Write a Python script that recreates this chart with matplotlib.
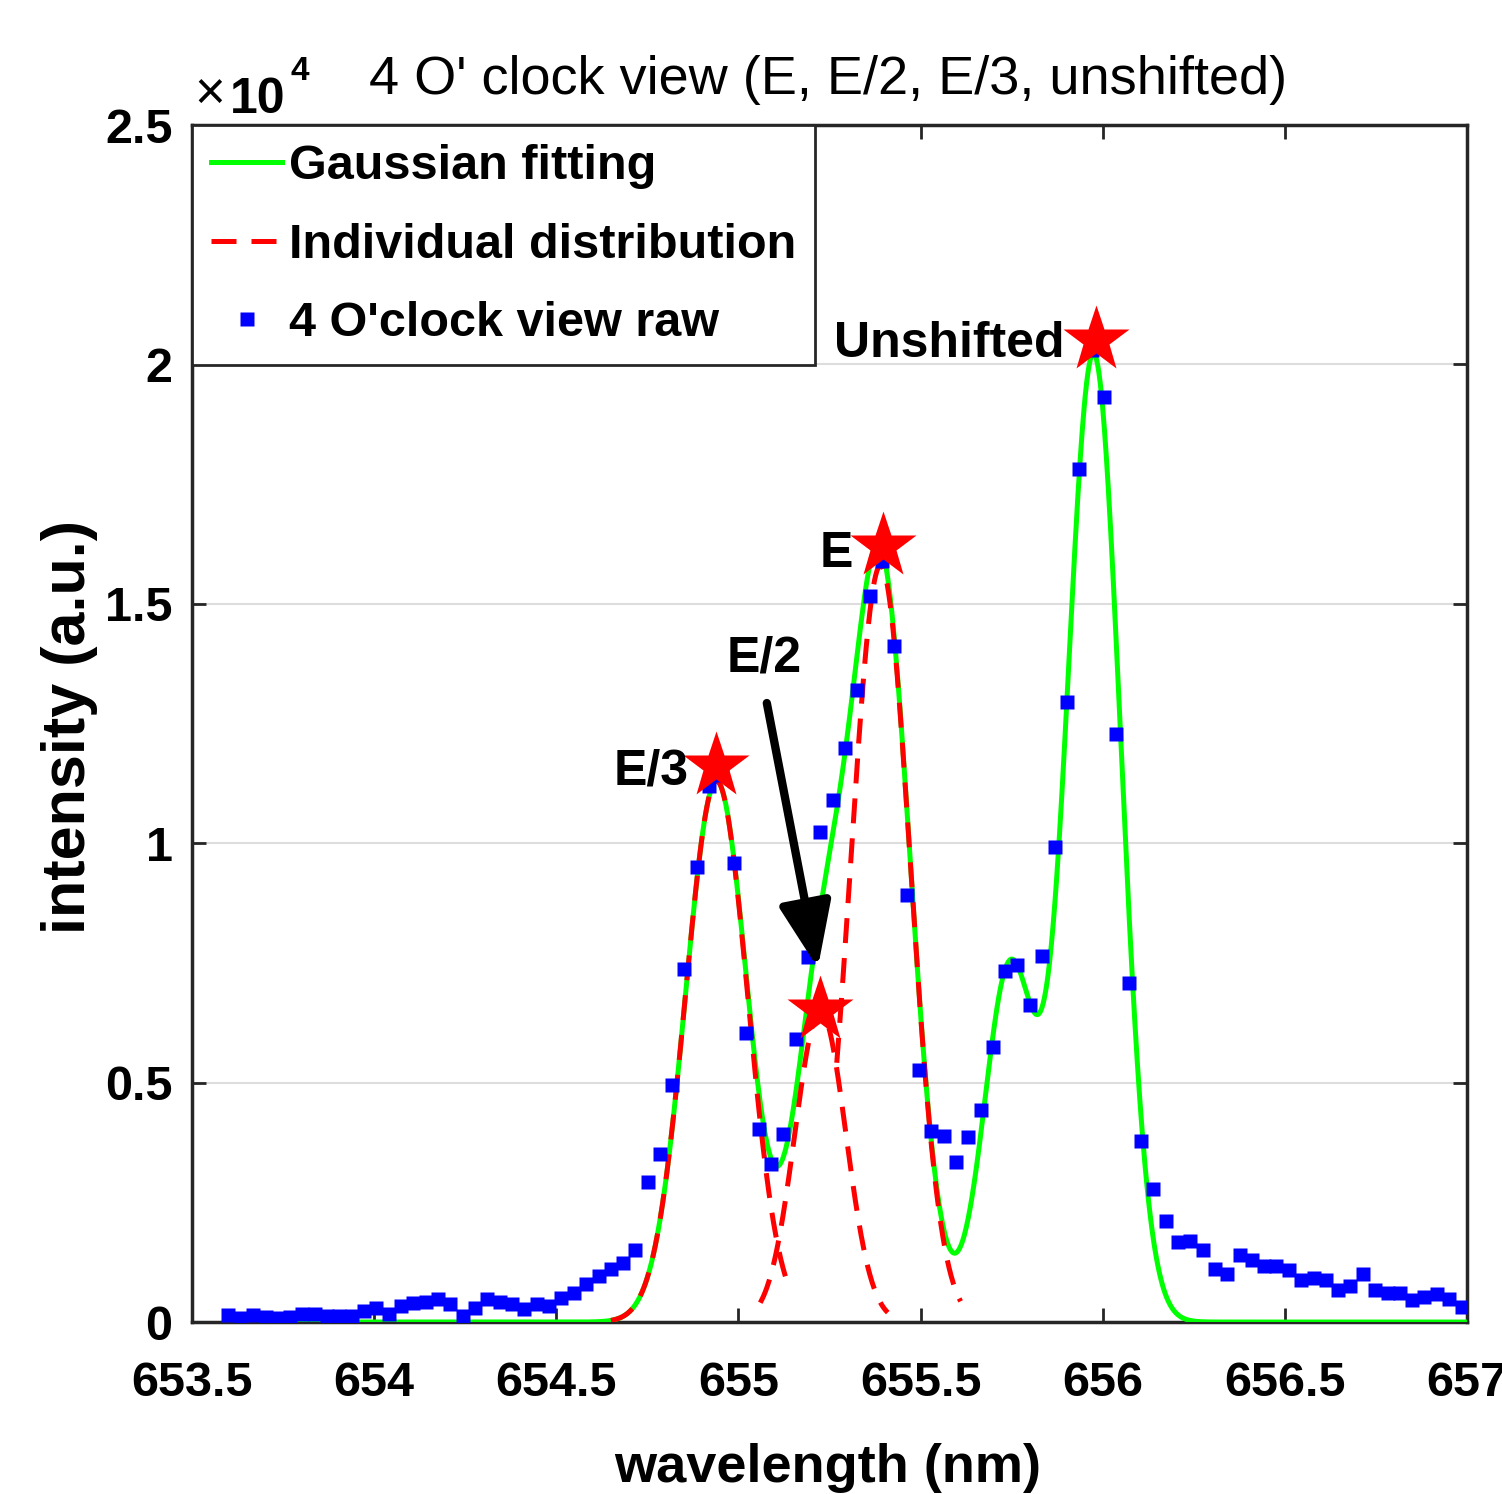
import numpy as np
import matplotlib
matplotlib.use("Agg")
import matplotlib.pyplot as plt
from matplotlib.lines import Line2D

plt.rcParams['font.family'] = ['Liberation Sans Narrow', 'Liberation Sans', 'DejaVu Sans']

# raw spectrum, 4 O'clock view
wavelength = [
    653.600, 653.634, 653.668, 653.702, 653.735, 653.769, 653.803, 653.837, 653.871, 653.905,
    653.939, 653.972, 654.006, 654.040, 654.074, 654.108, 654.142, 654.175, 654.209, 654.243,
    654.277, 654.311, 654.345, 654.379, 654.412, 654.446, 654.480, 654.514, 654.548, 654.582,
    654.616, 654.649, 654.683, 654.717, 654.751, 654.785, 654.819, 654.852, 654.886, 654.920,
    654.954, 654.988, 655.022, 655.056, 655.089, 655.123, 655.157, 655.191, 655.225, 655.259,
    655.293, 655.326, 655.360, 655.394, 655.428, 655.462, 655.496, 655.529, 655.563, 655.597,
    655.631, 655.665, 655.699, 655.733, 655.766, 655.800, 655.834, 655.868, 655.902, 655.936,
    655.970, 656.003, 656.037, 656.071, 656.105, 656.139, 656.173, 656.206, 656.240, 656.274,
    656.308, 656.342, 656.376, 656.410, 656.443, 656.477, 656.511, 656.545, 656.579, 656.613,
    656.646, 656.680, 656.714, 656.748, 656.782, 656.816, 656.850, 656.883, 656.917, 656.951,
    656.985]
intensity = [
    140, 80, 150, 100, 77, 104, 170, 160, 125, 125,
    125, 230, 286, 160, 334, 404, 425, 474, 370, 125,
    300, 474, 425, 384, 265, 370, 334, 508, 613, 787,
    961, 1100, 1239, 1500, 2920, 3520, 4960, 7380, 9500, 11200,
    11430, 9590, 6030, 4030, 3300, 3930, 5920, 7630, 10230, 10900,
    11990, 13200, 15160, 15900, 14120, 8920, 5260, 4000, 3890, 3340,
    3860, 4420, 5750, 7330, 7460, 6620, 7640, 9930, 12960, 17820,
    20300, 19310, 12290, 7080, 3780, 2780, 2120, 1670, 1690, 1500,
    1110, 1000, 1390, 1290, 1180, 1180, 1080, 875, 930, 875,
    670, 760, 1000, 670, 600, 600, 460, 530, 580, 490,
    310]

# gaussian fit components: E/3, E/2, E, small line, unshifted
comp_center = [654.94, 655.225, 655.39, 655.745, 655.975]
comp_amp = [11300, 6500, 15800, 7400, 20200]
comp_sigma = [0.085, 0.070, 0.082, 0.070, 0.074]
# wavelength windows where the individual (red) curves are drawn
comp_window = [(654.65, 655.13), (655.06, 655.41), (655.27, 655.61)]

# peak markers
peak_names = ['E/3', 'E/2', 'E', 'Unshifted']
peak_wl = [654.938, 655.224, 655.397, 655.982]
peak_int = [11610, 6520, 16210, 20510]


def gauss(x, a, c, s):
    return a * np.exp(-(x - c) ** 2 / (2 * s ** 2))


fig = plt.figure(figsize=(15.02, 14.94), dpi=100)
ax = fig.add_axes([0.1278, 0.1151, 0.8489, 0.8012])

xfit = np.linspace(653.6, 657.0, 2000)
yfit = np.zeros_like(xfit)
for a, c, s in zip(comp_amp, comp_center, comp_sigma):
    yfit += gauss(xfit, a, c, s)
ax.plot(xfit, yfit, color=(0, 1, 0), lw=3.6, zorder=3)

for k, (lo, hi) in enumerate(comp_window):
    xx = np.linspace(lo, hi, 300)
    ax.plot(xx, gauss(xx, comp_amp[k], comp_center[k], comp_sigma[k]),
            color=(1, 0, 0), lw=3.6, dashes=(5, 3), zorder=4)

ax.plot(wavelength, intensity, 's', color=(0, 0, 1), ms=9.5, mec='none', zorder=5)
ax.plot(peak_wl, peak_int, '*', color=(1, 0, 0), ms=50, mec='none', zorder=6)

# labels next to the stars
lab_kw = dict(va='center', fontsize=36, fontweight='bold', zorder=7)
ax.text(654.862, 11508, 'E/3', ha='right', **lab_kw)
ax.text(655.314, 16040, 'E', ha='right', **lab_kw)
ax.text(655.070, 13868, 'E/2', ha='center', **lab_kw)
ax.text(655.896, 20426, 'Unshifted', ha='right', **lab_kw)
ax.annotate('', xy=(655.218, 7394), xytext=(655.078, 12928),
            arrowprops=dict(arrowstyle='-|>,head_length=1.0,head_width=0.4',
                            color='k', lw=6, mutation_scale=40, shrinkA=0, shrinkB=0),
            zorder=7)

ax.set_xlim(653.5, 657)
ax.set_ylim(0, 25000)
ax.set_xticks([653.5, 654, 654.5, 655, 655.5, 656, 656.5, 657])
ax.set_xticklabels(['653.5', '654', '654.5', '655', '655.5', '656', '656.5', '657'])
ax.set_yticks([0, 5000, 10000, 15000, 20000, 25000])
ax.set_yticklabels(['0', '0.5', '1', '1.5', '2', '2.5'])
for lab in ax.get_xticklabels() + ax.get_yticklabels():
    lab.set_fontweight('bold')
ax.tick_params(axis='both', direction='in', top=True, right=True, length=10, width=2,
               labelsize=35, color='#262626')
ax.tick_params(axis='x', pad=28)
ax.tick_params(axis='y', pad=14)
ax.yaxis.grid(True, color='#dddddd', lw=1.5)
ax.set_axisbelow(True)
for sp in ax.spines.values():
    sp.set_linewidth(2.5)
    sp.set_color('#262626')

handles = [
    Line2D([], [], color=(0, 1, 0), lw=3.6),
    Line2D([], [], color=(1, 0, 0), lw=3.6, dashes=(5, 3)),
    Line2D([], [], ls='none', marker='s', color=(0, 0, 1), ms=9.5, mec='none'),
]
leg = ax.legend(handles, ['Gaussian fitting', 'Individual distribution', "4 O'clock view raw"],
                loc='upper left', bbox_to_anchor=(0, 1), borderaxespad=0, fancybox=False,
                framealpha=1, edgecolor='#262626', handlelength=1.45, handletextpad=0.14,
                borderpad=0.4, labelspacing=0.68, prop={'size': 35, 'weight': 'bold'})
leg.get_frame().set_linewidth(2)
leg.set_zorder(10)

# exponent and title
fig.text(0.1398, 0.9357, '\u00d7', ha='center', va='center', fontsize=38)
fig.text(0.1531, 0.9244, '10', ha='left', va='baseline', fontsize=36, fontweight='bold')
fig.text(0.1931, 0.9465, '4', ha='left', va='baseline', fontsize=24, fontweight='bold')
fig.text(0.5513, 0.9465, "4 O' clock view (E, E/2, E/3, unshifted)", ha='center', va='center',
         fontsize=39)
fig.text(0.0466, 0.5134, 'intensity (a.u.)', rotation=90, ha='center', va='center',
         fontsize=44, fontweight='bold')
fig.text(0.5513, 0.0174, 'wavelength (nm)', ha='center', va='center', fontsize=39,
         fontweight='bold')

fig.savefig('out.png', dpi=100)
